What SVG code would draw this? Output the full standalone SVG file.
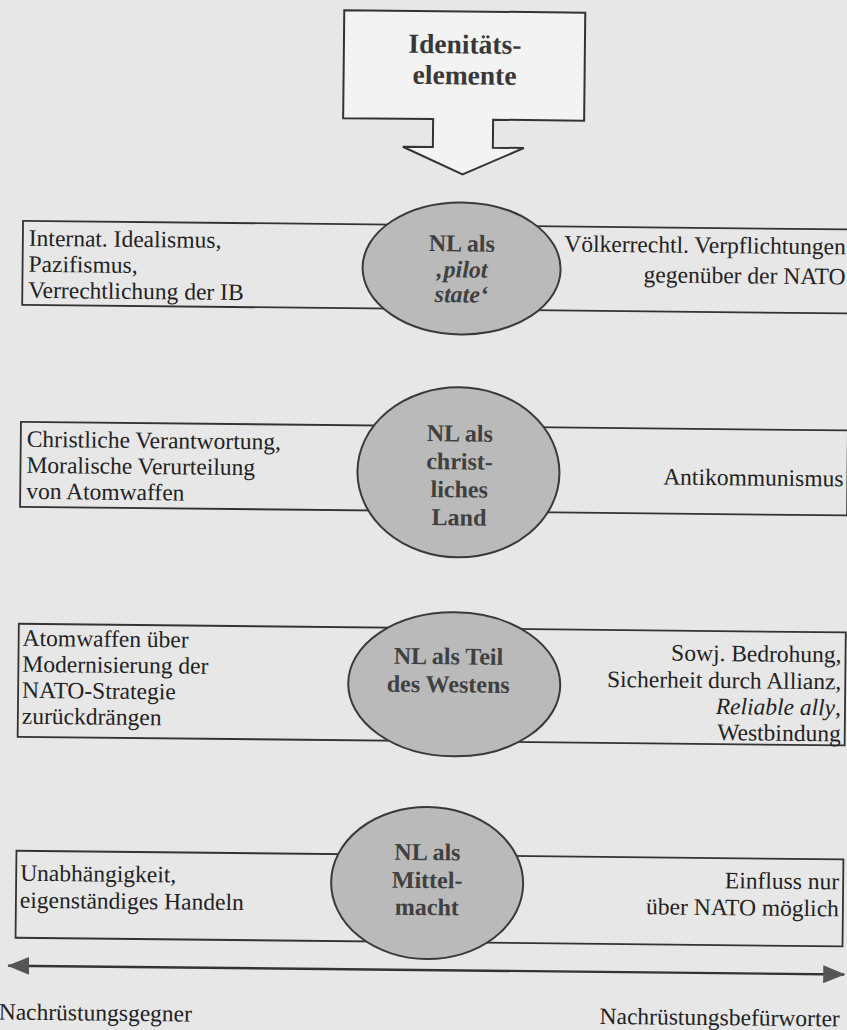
<svg xmlns="http://www.w3.org/2000/svg" width="847" height="1030" viewBox="0 0 847 1030">
<defs>
<style>
.bg{fill:#e7e7e7}
.row{fill:none;stroke:#333;stroke-width:1.8}
.ell{fill:#bababa;stroke:#3a3a3a;stroke-width:2}
.t{font-family:"Liberation Serif","Times New Roman",serif;font-size:23.5px;fill:#222}
.r{text-anchor:end}
.e{font-family:"Liberation Serif","Times New Roman",serif;font-size:24px;font-weight:bold;fill:#404040;text-anchor:middle}
.title{font-family:"Liberation Serif","Times New Roman",serif;font-size:27.5px;font-weight:bold;fill:#383838;text-anchor:middle}
.conn{stroke:#333;stroke-width:2.4;fill:none}
</style>
<marker id="ah" viewBox="0 0 22 18" refX="21" refY="9" markerWidth="22" markerHeight="18" markerUnits="userSpaceOnUse" orient="auto-start-reverse">
<path d="M0,0 L22,9 L0,18 Z" fill="#555"/>
</marker>
</defs>
<rect class="bg" x="0" y="0" width="847" height="1030"/>
<g transform="rotate(0.6 423 515)">
<g id="identity">
<path d="M339,11 H580 V119 H489 V147 H520 L459,174 L399,147 H429 V119 H339 Z" fill="#f3f3f3" stroke="#333" stroke-width="2"/>
<text class="title" x="460" y="53">Idenitäts-</text>
<text class="title" x="460" y="84">elemente</text>
</g>
<g id="row1">
<rect class="row" x="20" y="225" width="827" height="84"/>
<ellipse class="ell" cx="459" cy="268" rx="99" ry="66"/>
<text class="t" x="26" y="250">Internat. Idealismus,</text>
<text class="t" x="26" y="276">Pazifismus,</text>
<text class="t" x="26" y="302">Verrechtlichung der IB</text>
<text class="t r" x="843" y="250">Völkerrechtl. Verpflichtungen</text>
<text class="t r" x="843" y="280">gegenüber der NATO</text>
<text class="e" x="459" y="251">NL als</text>
<text class="e" x="459" y="277" font-style="italic">‚pilot</text>
<text class="e" x="459" y="302" font-style="italic">state‘</text>
</g>
<g id="row2">
<rect class="row" x="20" y="426" width="827" height="85"/>
<ellipse class="ell" cx="458" cy="472" rx="101" ry="85"/>
<text class="t" x="26" y="451">Christliche Verantwortung,</text>
<text class="t" x="26" y="477">Moralische Verurteilung</text>
<text class="t" x="26" y="503">von Atomwaffen</text>
<text class="t r" x="843" y="482">Antikommunismus</text>
<text class="e" x="459" y="441">NL als</text>
<text class="e" x="459" y="469">christ-</text>
<text class="e" x="459" y="497">liches</text>
<text class="e" x="459" y="525">Land</text>
</g>
<g id="row3">
<rect class="row" x="20" y="628" width="827" height="113"/>
<ellipse class="ell" cx="456" cy="684" rx="106" ry="72"/>
<text class="t" x="24" y="650">Atomwaffen über</text>
<text class="t" x="24" y="676">Modernisierung der</text>
<text class="t" x="24" y="702">NATO-Strategie</text>
<text class="t" x="24" y="728">zurückdrängen</text>
<text class="t r" x="843" y="658">Sowj. Bedrohung,</text>
<text class="t r" x="843" y="685">Sicherheit durch Allianz,</text>
<text class="t r" x="843" y="711"><tspan font-style="italic">Reliable ally</tspan>,</text>
<text class="t r" x="843" y="737">Westbindung</text>
<text class="e" x="450" y="664">NL als Teil</text>
<text class="e" x="450" y="692">des Westens</text>
</g>
<g id="row4">
<rect class="row" x="20" y="855" width="827" height="87"/>
<ellipse class="ell" cx="431" cy="883" rx="96" ry="76"/>
<text class="t" x="24" y="885">Unabhängigkeit,</text>
<text class="t" x="24" y="912">eigenständiges Handeln</text>
<text class="t r" x="843" y="885">Einfluss nur</text>
<text class="t r" x="843" y="912">über NATO möglich</text>
<text class="e" x="431" y="860">NL als</text>
<text class="e" x="431" y="888">Mittel-</text>
<text class="e" x="431" y="915">macht</text>
</g>
<g id="connectors">
<line class="conn" x1="13" y1="970" x2="849" y2="970" marker-start="url(#ah)" marker-end="url(#ah)"/>
</g>
<g id="axis-labels">
<text class="t" x="4" y="1024">Nachrüstungsgegner</text>
<text class="t r" x="845" y="1022">Nachrüstungsbefürworter</text>
</g>
</g>
</svg>
